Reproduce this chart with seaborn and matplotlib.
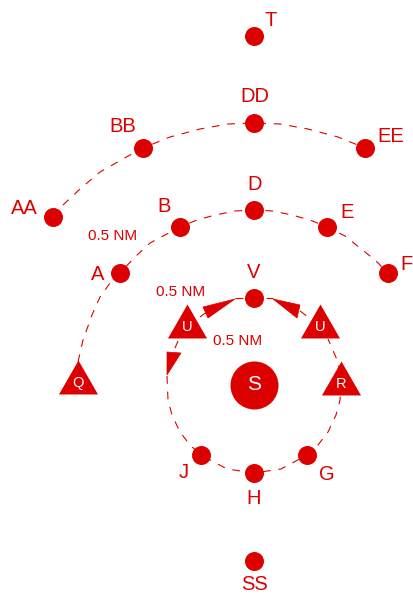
import matplotlib
matplotlib.use('Agg')
import matplotlib.pyplot as plt
import seaborn as sns
import pandas as pd

# holding pattern fixes (pixel units, y down)
RED = '#dd0000'

fix_x = [254, 254, 143, 365, 53, 254, 180, 327, 120, 388, 254, 201, 254, 307, 254]
fix_y = [36, 123, 148, 148, 217, 210, 227, 227, 273, 273, 298, 455, 473, 455, 561]

tri_x = [78, 187, 320, 341]
tri_y = [377, 321, 321, 377.5]
tri_names = ['Q', 'U', 'U', 'R']

station_x = [254]
station_y = [385]

# dashed tracks
outer_x = [53, 63, 80, 100, 130, 143, 170, 200, 228, 254, 280, 308, 338, 365]
outer_y = [217, 205, 189, 172, 155, 148, 137, 129, 124, 123, 124, 129, 137, 148]

inner_x = [78, 83, 92, 100, 110, 120, 135, 150, 180, 197, 215, 235, 254, 273, 292, 310, 327, 345, 360, 375, 388]
inner_y = [362, 340, 315, 297, 283, 273, 257, 243, 227, 220, 215, 211, 210, 211, 215, 220, 227, 236, 248, 260, 273]

lower_x = [167, 168, 172, 180, 190, 201, 227, 254, 281, 307, 318, 328, 336, 340, 341, 338, 328]
lower_y = [376, 400, 415, 432, 445, 455, 469, 473, 469, 455, 445, 432, 415, 400, 385, 362, 339]

leg_left_x = [178, 172]
leg_left_y = [341, 355]
leg_top_left_x = [200, 208]
leg_top_left_y = [317, 311]
leg_top_right_x = [300, 312]
leg_top_right_y = [311, 320]
leg_v_x = [235, 273]
leg_v_y = [298, 298]

# arrow heads
arrow1_x = [167, 181, 167]
arrow1_y = [352, 353, 375]
arrow2_x = [203, 208, 235]
arrow2_y = [307, 318, 299]
arrow3_x = [273, 300, 297]
arrow3_y = [299, 305, 318]

labels = ['T', 'DD', 'BB', 'EE', 'AA', 'D', 'B', 'E', 'A', 'F', 'V', 'J', 'H', 'G', 'SS']
label_x = [271, 255, 123, 391, 24, 255, 164, 347, 98, 406, 254, 184, 254, 327, 255]
label_y = [21, 97, 126, 136, 208, 185, 207, 212, 274, 265, 273, 473, 499, 474, 584]

nm_x = [113, 181, 238]
nm_y = [236, 292, 341]

sns.set_theme(style='white')
plt.rcParams['font.family'] = ['Liberation Sans', 'DejaVu Sans']

fig = plt.figure(figsize=(4.13, 5.95), dpi=100)
ax = fig.add_axes([0, 0, 1, 1])

# tracks first so the marks sit on top
tracks = [(outer_x, outer_y), (inner_x, inner_y), (lower_x, lower_y),
          (leg_left_x, leg_left_y), (leg_top_left_x, leg_top_left_y),
          (leg_top_right_x, leg_top_right_y), (leg_v_x, leg_v_y)]
for tx, ty in tracks:
    sns.lineplot(x=tx, y=ty, sort=False, estimator=None, color=RED, lw=0.8,
                 linestyle=(0, (7, 7)), ax=ax, zorder=1)

for ax_, ay_ in [(arrow1_x, arrow1_y), (arrow2_x, arrow2_y), (arrow3_x, arrow3_y)]:
    ax.fill(ax_, ay_, color=RED, lw=0.5, zorder=2)

fixes = pd.DataFrame({'x': fix_x, 'y': fix_y})
sns.scatterplot(data=fixes, x='x', y='y', color=RED, s=187, linewidth=0, ax=ax, zorder=3)

tris = pd.DataFrame({'x': tri_x, 'y': tri_y})
tri_marker = [(0, 1), (-1.15, -1), (1.15, -1)]
sns.scatterplot(data=tris, x='x', y='y', color=RED, s=790, marker=tri_marker,
                linewidth=0, ax=ax, zorder=3)

sns.scatterplot(x=station_x, y=station_y, color=RED, s=1195, linewidth=0, ax=ax, zorder=3)

for t, x, y in zip(labels, label_x, label_y):
    ax.text(x, y, t, color=RED, fontsize=14.5, ha='center', va='center')
for x, y in zip(nm_x, nm_y):
    ax.text(x, y, '0.5 NM', color=RED, fontsize=11, ha='center', va='center')
for t, x, y in zip(tri_names, tri_x, tri_y):
    ax.text(x, y + 6, t, color='white', fontsize=10.5, ha='center', va='center', zorder=4)
ax.text(station_x[0], station_y[0], 'S', color='white', fontsize=15, ha='center', va='center', zorder=4)

ax.set_xlim(0, 413)
ax.set_ylim(595, 0)
ax.axis('off')

fig.savefig('out.png', dpi=100)
